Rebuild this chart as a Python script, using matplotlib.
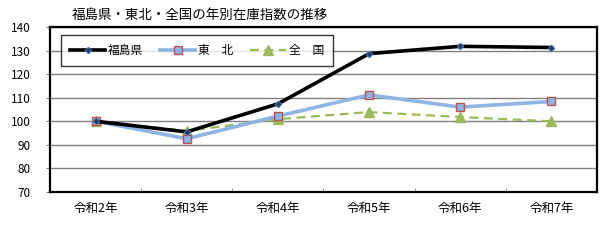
import matplotlib
matplotlib.use("Agg")
import matplotlib.pyplot as plt
from matplotlib.ticker import FixedLocator

plt.rcParams['font.family'] = ['Noto Sans CJK JP', 'DejaVu Sans']

categories = ['令和2年', '令和3年', '令和4年', '令和5年', '令和6年', '令和7年']
fukushima = [100.0, 95.5, 107.4, 128.7, 131.8, 131.3]
tohoku = [100.0, 92.6, 102.2, 111.2, 106.0, 108.4]
zenkoku = [100.0, 95.9, 100.9, 103.9, 101.8, 100.0]
series_names = ['福島県', '東　北', '全　国']
title = '福島県・東北・全国の年別在庫指数の推移'

fig = plt.figure(figsize=(6.05, 2.40), dpi=100)
ax = fig.add_axes([50/605, 1-192/240, 547/605, 165/240])

x = list(range(len(categories)))
ax.plot(x, fukushima, color='black', lw=2.6, marker='D', ms=3.5,
        mfc='#1f3f6f', mec='#4f81bd', mew=0.6, label=series_names[0], zorder=5)
ax.plot(x, tohoku, color='#8db4e2', lw=2.6, marker='s', ms=6,
        mfc='#8db4e2', mec='#c0504d', mew=1.0, label=series_names[1], zorder=4)
ax.plot(x, zenkoku, color='#9bbb59', lw=1.6, ls=(0, (4, 2.5)), marker='^', ms=7,
        mfc='#9bbb59', mec='#9bbb59', label=series_names[2], zorder=3)

ax.set_xlim(-0.5, len(categories) - 0.5)
ax.set_ylim(70, 140)
ax.set_yticks(range(70, 141, 10))
ax.yaxis.grid(True, color='#808080', lw=1.0)
ax.set_axisbelow(True)
ax.set_xticks(x)
ax.set_xticklabels(categories, fontsize=9)
ax.xaxis.set_minor_locator(FixedLocator([i + 0.5 for i in range(len(categories) - 1)]))
ax.tick_params(axis='x', which='major', length=0, pad=7)
ax.tick_params(axis='x', which='minor', direction='in', length=3, color='#808080')
ax.tick_params(axis='y', length=3, direction='out', color='#808080', labelsize=8.5, pad=11)
for s in ax.spines.values():
    s.set_color('black')
    s.set_linewidth(1.6)

leg = ax.legend(loc='upper left', bbox_to_anchor=(11/547, 1 - 8/165), ncol=3,
                fontsize=8.5, frameon=True, fancybox=False, edgecolor='black',
                handlelength=3.0, columnspacing=1.4, borderpad=0.75, handletextpad=0.25,
                borderaxespad=0)
leg.get_frame().set_linewidth(1.0)

fig.text(72/605, 1 - 15/240, title, fontsize=9.7, va='center', ha='left')

fig.savefig('out.png', dpi=100)
